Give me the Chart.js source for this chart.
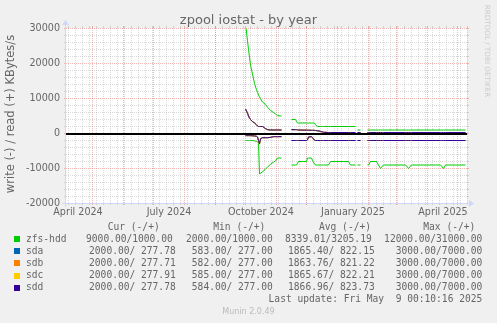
<!DOCTYPE html>
<html><head><meta charset="utf-8">
<script src="https://cdn.jsdelivr.net/npm/chart.js@4/dist/chart.umd.min.js"></script>
<style>
html,body{margin:0;padding:0;background:#f0f0f0;}
canvas{display:block;}
</style></head><body>
<canvas id="c" width="497" height="323"></canvas>
<script>
// ---- data (x = days since 1 April 2024) ----
const days = [183,184,185,186,187,188,190,192,194,195,196,197,198,200,203,205,208,211,213,215,219,220,
  229,233,234,235,236,244,245,246,249,250,252,253,255,258,260,261,266,268,286,288,293,294,
  295,298,299,
  305,306,308,314,316,318,320,321,343,344,346,348,349,378,379,381,383,403];

const zfsRead = [31000,29000,26500,24000,21800,19500,17000,14300,12500,11800,11000,10500,9900,9000,8300,7500,6600,6000,5600,5100,5000,null,
  4000,4000,3500,3000,3000,3000,3000,3000,3000,3000,3000,2500,2000,2000,2000,2000,2000,2000,2000,2000,2000,null,
  1000,1000,null,
  1000,1000,1000,1000,1000,1000,1000,1000,1000,1000,1000,1000,1000,1000,1000,1000,1000,1000];
const zfsWrite = [-2000,-2000,-2000,-2000,-2000,-2000,-2000,-2100,-2300,-2400,-2500,-11600,-11300,-11000,-10100,-9600,-8800,-8200,-7800,-7000,-7000,null,
  -9000,-9000,-9000,-8500,-8000,-8000,-7000,-7000,-7000,-7700,-8700,-9000,-9000,-9000,-9000,-9000,-9000,-8000,-8000,-9000,-9000,null,
  -9000,-9000,null,
  -9000,-9000,-8000,-8000,-9000,-10000,-9300,-9000,-9000,-9300,-10000,-9300,-9000,-9000,-9300,-10000,-9000,-9000];

const sdaRead = [7000,6400,5800,5000,4400,4000,3400,3000,2500,2200,2000,2000,2000,2000,1400,1100,1000,1000,1000,1000,1000,null,
  1100,1100,1100,1050,1000,950,950,950,900,900,900,850,800,600,450,350,278,278,278,278,278,null,
  278,278,null,
  278,278,278,278,278,278,278,278,278,278,278,278,278,278,278,278,278,278];
const sdaWrite = [-600,-600,-600,-600,-600,-600,-650,-700,-800,-1000,-2000,-3000,-1500,-1200,-1200,-1200,-1100,-900,-900,-900,-900,null,
  -2000,-2000,-2000,-2000,-2000,-2000,-1800,-1000,-900,-1200,-1900,-2000,-2000,-2000,-2000,-2000,-2000,-2000,-2000,-2000,-2000,null,
  -2000,-2000,null,
  -2000,-2000,-2000,-2000,-2000,-2000,-2000,-2000,-2000,-2000,-2000,-2000,-2000,-2000,-2000,-2000,-2000,-2000];
const sdbRead = [7000,6400,5800,5000,4400,4000,3400,3000,2500,2200,2000,2000,2000,2000,1400,1100,1000,1000,1000,1000,1000,null,
  1100,1100,1100,1050,1000,950,950,950,900,900,900,850,800,600,450,350,278,278,278,278,278,null,
  278,278,null,
  278,278,278,278,278,278,278,278,278,278,278,278,278,278,278,278,278,278];
const sdbWrite = [-600,-600,-600,-600,-600,-600,-650,-700,-800,-1100,-2100,-3000,-1600,-1200,-1200,-1200,-1100,-900,-900,-900,-900,null,
  -2000,-2000,-2000,-2000,-2000,-2000,-1800,-1000,-900,-1200,-1900,-2000,-2000,-2000,-2000,-2000,-2000,-2000,-2000,-2000,-2000,null,
  -2000,-2000,null,
  -2000,-2000,-2000,-2000,-2000,-2000,-2000,-2000,-2000,-2000,-2000,-2000,-2000,-2000,-2000,-2000,-2000,-2000];
const sdcRead = [7000,6400,5800,5000,4400,4000,3400,3000,2500,2200,2000,2000,2000,2000,1400,1100,1000,1000,1000,1000,1000,null,
  1100,1100,1100,1050,1000,950,950,950,900,900,900,850,800,600,450,350,278,278,278,278,278,null,
  278,278,null,
  278,278,278,278,278,278,278,278,278,278,278,278,278,278,278,278,278,278];
const sdcWrite = [-600,-600,-600,-600,-600,-600,-650,-700,-800,-1000,-2000,-3000,-1500,-1200,-1200,-1200,-1100,-900,-900,-900,-900,null,
  -2000,-2000,-2000,-2000,-2000,-2000,-1800,-1000,-900,-1200,-1900,-2000,-2000,-2000,-2000,-2000,-2000,-2000,-2000,-2000,-2000,null,
  -2000,-2000,null,
  -2000,-2000,-2000,-2000,-2000,-2000,-2000,-2000,-2000,-2000,-2000,-2000,-2000,-2000,-2000,-2000,-2000,-2000];
const sddRead = [7000,6400,5800,5000,4400,4000,3400,3000,2500,2200,2000,2000,2000,2000,1400,1100,1000,1000,1000,1000,1000,null,
  1100,1100,1100,1050,1000,950,950,950,900,900,900,850,800,600,450,350,278,278,278,278,278,null,
  278,278,null,
  278,278,278,278,278,278,278,278,278,278,278,278,278,278,278,278,278,278];
const sddWrite = [-600,-600,-600,-600,-600,-600,-650,-700,-800,-1000,-2000,-2900,-1500,-1200,-1200,-1200,-1100,-900,-900,-900,-900,null,
  -2000,-2000,-2000,-2000,-2000,-2000,-1800,-1000,-900,-1200,-1900,-2000,-2000,-2000,-2000,-2000,-2000,-2000,-2000,-2000,-2000,null,
  -2000,-2000,null,
  -2000,-2000,-2000,-2000,-2000,-2000,-2000,-2000,-2000,-2000,-2000,-2000,-2000,-2000,-2000,-2000,-2000,-2000];

const seriesNames = ['zfs-hdd','sda','sdb','sdc','sdd'];
const seriesColors = ['#00CC00','#0066B3','#FF8000','#FFCC00','#330099'];
const legendCur = ['9000.00/1000.00','2000.00/ 277.78','2000.00/ 277.71','2000.00/ 277.91','2000.00/ 277.78'];
const legendMin = ['2000.00/1000.00','583.00/ 277.00','582.00/ 277.00','585.00/ 277.00','584.00/ 277.00'];
const legendAvg = ['8339.01/3205.19','1865.40/ 822.15','1863.76/ 821.22','1865.67/ 822.21','1866.96/ 823.73'];
const legendMax = ['12000.00/31000.00','3000.00/7000.00','3000.00/7000.00','3000.00/7000.00','3000.00/7000.00'];
const legendHeads = ['Cur (-/+)','Min (-/+)','Avg (-/+)','Max (-/+)'];

const yTicks = [-20000,-10000,0,10000,20000,30000];
const xTickDays = [16,107,199,291,381];
const xTickLabels = ['April 2024','July 2024','October 2024','January 2025','April 2025'];
const monthStartDays = [30,61,91,122,153,183,214,244,275,306,334,365,395];
const xMin = 4, xMax = 405, yMin = -20000, yMax = 30000;

const titleText = 'zpool iostat - by year';
const yTitle = 'write (-) / read (+) KBytes/s';
const lastUpdate = 'Last update: Fri May  9 00:10:16 2025';
const muninVer = 'Munin 2.0.49';
const rrdMark = 'RRDTOOL / TOBI OETIKER';

// ---- build ----
const SANS = "'DejaVu Sans', sans-serif";
const MONO = "'DejaVu Sans Mono', monospace";
const TXT = '#666666';
const MINOR = 'rgba(150,150,150,0.35)';
const MAJOR = 'rgba(230,90,90,0.45)';
const AXIS = '#CFD6F8';

const pts = arr => days.map((d, i) => ({x: d, y: arr[i]}));
const seriesData = [[zfsRead, zfsWrite],[sdaRead, sdaWrite],[sdbRead, sdbWrite],[sdcRead, sdcWrite],[sddRead, sddWrite]];
const datasets = [];
seriesData.forEach((pair, s) => {
  pair.forEach((arr, k) => {
    datasets.push({
      label: seriesNames[s] + (k ? ' write' : ' read'),
      data: pts(arr),
      borderColor: seriesColors[s],
      backgroundColor: seriesColors[s],
      borderWidth: 1,
      pointRadius: 0,
      tension: 0,
      spanGaps: false,
      fill: false,
      order: 5 - s
    });
  });
});

function hline(ctx, x1, x2, y) { ctx.beginPath(); ctx.moveTo(x1, y); ctx.lineTo(x2, y); ctx.stroke(); }
function vline(ctx, x, y1, y2) { ctx.beginPath(); ctx.moveTo(x, y1); ctx.lineTo(x, y2); ctx.stroke(); }

const muninPlugin = {
  id: 'munin',
  beforeDraw(chart) {
    const {ctx, chartArea: a} = chart;
    ctx.save();
    ctx.fillStyle = '#f0f0f0';
    ctx.fillRect(0, 0, chart.width, chart.height);
    ctx.fillStyle = '#ffffff';
    ctx.fillRect(a.left, a.top, a.right - a.left, a.bottom - a.top);
    ctx.restore();
  },
  beforeDatasetsDraw(chart) {
    const {ctx, chartArea: a, scales: {x, y}} = chart;
    ctx.save();
    ctx.lineWidth = 1;
    // minor grid
    ctx.strokeStyle = MINOR;
    for (let v = yMin + 2000; v < yMax; v += 2000) {
      if (v % 10000 === 0) continue;
      const py = Math.round(y.getPixelForValue(v)) + 0.5;
      ctx.setLineDash([1, 1]); hline(ctx, a.left, a.right, py);
      ctx.setLineDash([]); hline(ctx, a.left - 2, a.left, py); hline(ctx, a.right, a.right + 2, py);
    }
    for (let d = 6; d <= xMax; d += 7) {
      if (d < xMin) continue;
      const px = Math.round(x.getPixelForValue(d)) + 0.5;
      ctx.setLineDash([1, 1]); vline(ctx, px, a.top, a.bottom);
      ctx.setLineDash([]); vline(ctx, px, a.top - 2, a.top); vline(ctx, px, a.bottom, a.bottom + 2);
    }
    // major grid
    ctx.strokeStyle = MAJOR;
    yTicks.forEach(v => {
      const py = Math.round(y.getPixelForValue(v)) + 0.5;
      ctx.setLineDash([1, 1]); hline(ctx, a.left, a.right, py);
      ctx.setLineDash([]); hline(ctx, a.left - 2, a.left, py); hline(ctx, a.right, a.right + 2, py);
    });
    monthStartDays.forEach(d => {
      const px = Math.round(x.getPixelForValue(d)) + 0.5;
      ctx.setLineDash([1, 1]); vline(ctx, px, a.top, a.bottom);
      ctx.setLineDash([]); vline(ctx, px, a.top - 2, a.top); vline(ctx, px, a.bottom, a.bottom + 2);
    });
    // zero rule
    ctx.setLineDash([]);
    ctx.strokeStyle = '#000000';
    ctx.lineWidth = 2;
    hline(ctx, a.left, a.right, Math.round(y.getPixelForValue(0)) + 1);
    ctx.restore();
    // half-pixel shift so 1px data lines land on pixel centres
    ctx.save();
    ctx.translate(0.5, 0.5);
  },
  afterDatasetsDraw(chart) {
    const {ctx, chartArea: a} = chart;
    ctx.restore();
    ctx.save();
    ctx.strokeStyle = AXIS; ctx.fillStyle = AXIS; ctx.lineWidth = 1;
    const bx = a.bottom + 0.5, lx = a.left - 0.5;
    hline(ctx, a.left - 4, a.right + 3, bx);
    vline(ctx, lx, a.bottom + 4, a.top - 4);
    ctx.beginPath(); ctx.moveTo(a.right + 2, a.bottom - 3); ctx.lineTo(a.right + 7, a.bottom + 0.5); ctx.lineTo(a.right + 2, a.bottom + 4); ctx.closePath(); ctx.fill();
    ctx.beginPath(); ctx.moveTo(a.left - 4, a.top - 3); ctx.lineTo(a.left - 0.5, a.top - 8); ctx.lineTo(a.left + 3, a.top - 3); ctx.closePath(); ctx.fill();
    ctx.restore();
  },
  afterDraw(chart) {
    const ctx = chart.ctx;
    ctx.save();
    ctx.fillStyle = TXT;
    // title
    ctx.font = '13px ' + SANS; ctx.textAlign = 'center'; ctx.textBaseline = 'alphabetic';
    ctx.fillText(titleText, 248.5, 24);
    // y title
    ctx.save();
    ctx.translate(11.5, 114); ctx.rotate(-Math.PI / 2);
    ctx.font = '11.5px ' + SANS; ctx.textAlign = 'center'; ctx.textBaseline = 'middle';
    ctx.fillText(yTitle, 0, 0);
    ctx.restore();
    // rrdtool watermark
    ctx.save();
    ctx.translate(487, 51); ctx.rotate(Math.PI / 2);
    ctx.fillStyle = '#cccccc';
    ctx.font = '7.2px ' + SANS; ctx.textAlign = 'center'; ctx.textBaseline = 'middle';
    ctx.fillText(rrdMark, 0, 0);
    ctx.restore();
    // legend
    ctx.font = '9.6px ' + MONO; ctx.textBaseline = 'middle'; ctx.textAlign = 'right';
    const headEnds = [159.7, 265.3, 371, 475.3];
    legendHeads.forEach((h, i) => ctx.fillText(h, headEnds[i], 227));
    const rowY = [239.3, 251.3, 263.4, 275.6, 287.7];
    seriesNames.forEach((n, i) => {
      const yy = rowY[i];
      ctx.fillStyle = seriesColors[i];
      ctx.fillRect(14, Math.round(yy) - 3, 6, 6);
      ctx.fillStyle = TXT;
      ctx.textAlign = 'left';
      ctx.fillText(n, 26, yy);
      ctx.textAlign = 'right';
      const ends = i === 0 ? [172.7, 272.7, 371.7, 482.3] : [175.7, 272.7, 374.7, 482.3];
      ctx.fillText(legendCur[i], ends[0], yy);
      ctx.fillText(legendMin[i], ends[1], yy);
      ctx.fillText(legendAvg[i], ends[2], yy);
      ctx.fillText(legendMax[i], ends[3], yy);
    });
    ctx.fillText(lastUpdate, 482.3, 299.6);
    ctx.fillStyle = '#bbbbbb';
    ctx.font = '8px ' + SANS; ctx.textAlign = 'center';
    ctx.fillText(muninVer, 248.5, 312);
    ctx.restore();
  }
};

new Chart(document.getElementById('c'), {
  type: 'line',
  data: {datasets},
  options: {
    responsive: false,
    animation: false,
    devicePixelRatio: 1,
    events: [],
    layout: {padding: {top: 28, right: 30, left: 0, bottom: 0}},
    plugins: {legend: {display: false}, title: {display: false}, tooltip: {enabled: false}},
    scales: {
      x: {
        type: 'linear', min: xMin, max: xMax,
        afterBuildTicks: s => { s.ticks = xTickDays.map(v => ({value: v})); },
        afterFit: s => { s.height = 120; },
        grid: {display: false, drawTicks: false},
        border: {display: false},
        ticks: {autoSkip: false, maxRotation: 0, padding: 3.6, color: TXT,
          font: {family: 'DejaVu Sans', size: 9.6},
          callback: (v, i) => xTickLabels[i]}
      },
      y: {
        min: yMin, max: yMax,
        afterBuildTicks: s => { s.ticks = yTicks.map(v => ({value: v})); },
        afterFit: s => { s.width = 66; },
        grid: {display: false, drawTicks: false},
        border: {display: false},
        ticks: {padding: 6, color: TXT, font: {family: 'DejaVu Sans', size: 9.6},
          callback: v => String(v)}
      }
    }
  },
  plugins: [muninPlugin]
});
</script>
</body></html>
